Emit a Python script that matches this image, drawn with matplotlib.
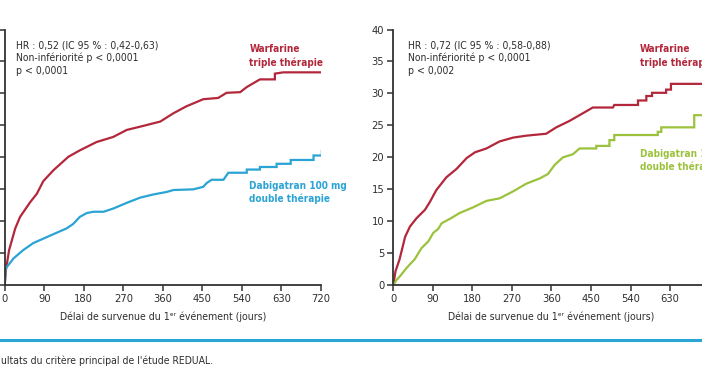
import matplotlib
matplotlib.use("Agg")
import matplotlib.pyplot as plt
from matplotlib.lines import Line2D

# ---------------- data ----------------
x_ticks_left = [0, 90, 180, 270, 360, 450, 540, 630, 720]
x_ticks_right = [0, 90, 180, 270, 360, 450, 540, 630]
y_ticks = [0, 5, 10, 15, 20, 25, 30, 35, 40]

# Left panel (HR 0,52)
left_warf_days = [0, 3, 10, 24, 35, 58, 73, 88, 111, 145, 171, 209, 247, 278, 308, 354, 384, 414, 452, 486, 505, 536, 551, 581, 615, 615, 634, 722]
left_warf_vals = [0, 2.5, 5.5, 8.9, 10.7, 13.0, 14.3, 16.3, 18.0, 20.1, 21.1, 22.4, 23.2, 24.3, 24.8, 25.6, 26.9, 28.0, 29.1, 29.3, 30.1, 30.2, 31.0, 32.2, 32.2, 33.1, 33.3, 33.3]

left_dabi_days = [0, 2, 20, 42, 65, 88, 111, 141, 156, 171, 187, 202, 225, 247, 278, 308, 338, 369, 384, 429, 452, 460, 471, 498, 509, 551, 551, 581, 581, 619, 619, 651, 651, 703, 703, 722, 722]
left_dabi_vals = [0, 2.6, 4.2, 5.5, 6.6, 7.3, 8.0, 8.9, 9.6, 10.7, 11.3, 11.5, 11.5, 12.0, 12.9, 13.7, 14.2, 14.6, 14.9, 15.0, 15.4, 16.0, 16.5, 16.5, 17.6, 17.6, 18.1, 18.1, 18.5, 18.5, 19.0, 19.0, 19.6, 19.6, 20.3, 20.3, 21.0]

# Right panel (HR 0,72)
right_warf_days = [0, 5, 14, 27, 38, 53, 72, 83, 98, 121, 144, 167, 186, 212, 242, 273, 303, 348, 371, 401, 439, 454, 500, 503, 557, 557, 576, 576, 589, 589, 621, 621, 632, 632, 720]
right_warf_vals = [0, 2.2, 4.0, 7.6, 9.2, 10.5, 11.8, 13.0, 14.9, 16.9, 18.2, 19.9, 20.8, 21.4, 22.5, 23.1, 23.4, 23.7, 24.7, 25.7, 27.2, 27.8, 27.8, 28.2, 28.2, 28.9, 28.9, 29.6, 29.6, 30.1, 30.1, 30.6, 30.6, 31.5, 31.5]

right_dabi_days = [0, 8, 15, 30, 49, 64, 80, 91, 102, 110, 129, 151, 182, 212, 242, 273, 303, 333, 352, 367, 386, 409, 424, 462, 462, 492, 492, 503, 503, 602, 602, 610, 610, 685, 685, 720]
right_dabi_vals = [0, 0.9, 1.4, 2.7, 4.1, 5.8, 6.9, 8.2, 8.8, 9.7, 10.4, 11.3, 12.2, 13.2, 13.6, 14.7, 15.9, 16.7, 17.4, 18.8, 20.0, 20.5, 21.4, 21.4, 21.8, 21.8, 22.7, 22.7, 23.5, 23.5, 24.0, 24.0, 24.7, 24.7, 26.6, 26.6]

x_label = "Délai de survenue du 1ᵉʳ événement (jours)"
left_stats = ["HR : 0,52 (IC 95 % : 0,42-0,63)", "Non-infériorité p < 0,0001", "p < 0,0001"]
right_stats = ["HR : 0,72 (IC 95 % : 0,58-0,88)", "Non-infériorité p < 0,0001", "p < 0,002"]
left_labels = (["Warfarine", "triple thérapie"], ["Dabigatran 100 mg", "double thérapie"])
right_labels = (["Warfarine", "triple thérapie"], ["Dabigatran 150 mg", "double thérapie"])
caption = "ultats du critère principal de l'étude REDUAL."

# ---------------- style ----------------
plt.rcParams["font.family"] = ["DejaVu Sans"]
plt.rcParams["font.stretch"] = "condensed"
RED = "#b3273b"
BLUE = "#2aa3d5"
GREEN = "#9cc23d"
TXT = "#2e2e2e"
AX = "#333333"

W, H = 702, 370
fig = plt.figure(figsize=(W / 100, H / 100), dpi=100)
fig.patch.set_facecolor("white")

def px(x, y):
    return x / W, 1 - y / H

bottom = (H - 285.3) / H
height = (285.3 - 29.5) / H
width = (321 - 4.7) / W

def setup(ax, xt):
    ax.set_xlim(0, 720)
    ax.set_ylim(0, 40)
    ax.set_xticks(xt)
    ax.set_yticks(y_ticks)
    for s in ["top", "right"]:
        ax.spines[s].set_visible(False)
    for s in ["left", "bottom"]:
        ax.spines[s].set_color(AX)
        ax.spines[s].set_linewidth(1.3)
    ax.tick_params(direction="out", length=4, width=1.1, color=AX,
                   labelsize=8, labelcolor=TXT, pad=2.5)
    ax.set_xlabel(x_label, fontsize=7.6, color=TXT, labelpad=5)
    ax.patch.set_alpha(0)

axL = fig.add_axes([4.7 / W, bottom, width, height])
axR = fig.add_axes([393.3 / W, bottom, width, height])
setup(axL, x_ticks_left)
setup(axR, x_ticks_right)
axL.tick_params(axis="y", labelleft=False)

axL.plot(left_warf_days, left_warf_vals, color=RED, lw=1.6, solid_joinstyle="miter")
axL.plot(left_dabi_days, left_dabi_vals, color=BLUE, lw=1.6, solid_joinstyle="miter")
axR.plot(right_warf_days, right_warf_vals, color=RED, lw=1.6, solid_joinstyle="miter")
axR.plot(right_dabi_days, right_dabi_vals, color=GREEN, lw=1.6, solid_joinstyle="miter")

def stats(x0, lines):
    for i, t in enumerate(lines):
        fig.text(*px(x0, 45 + i * 12.8), t, fontsize=7.5, color=TXT, va="center", ha="left")

stats(16, left_stats)
stats(407.7, right_stats)

def labels(x0, pair, y_top, y_bot, col2):
    for i, t in enumerate(pair[0]):
        fig.text(*px(x0, y_top + i * 13), t, fontsize=7.2, color=RED, fontweight="bold", va="center", ha="left")
    for i, t in enumerate(pair[1]):
        fig.text(*px(x0, y_bot + i * 12.8), t, fontsize=7.2, color=col2, fontweight="bold", va="center", ha="left")

labels(249.3, left_labels, 49.3, 185.7, BLUE)
labels(640, right_labels, 49.3, 154, GREEN)

# separator line and caption
fig.add_artist(Line2D([0, 1], [1 - 340.3 / H] * 2, transform=fig.transFigure, color="#2aa6d6", lw=2.2))
fig.text(*px(1, 361), caption, fontsize=7.5, color=TXT, va="center", ha="left")

fig.savefig("out.png", dpi=100, facecolor="white")
